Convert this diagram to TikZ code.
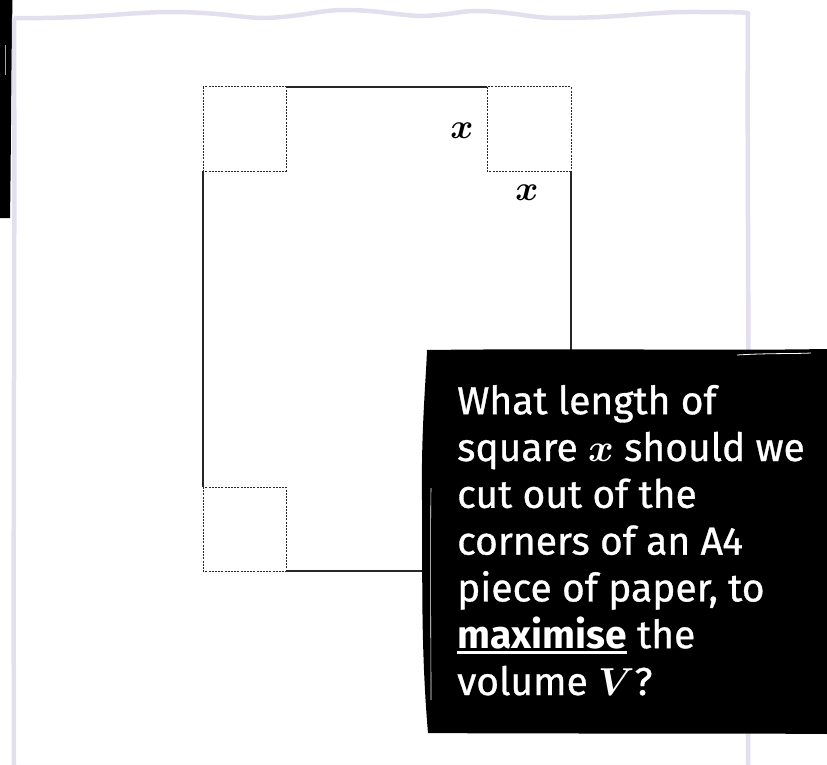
\RequirePackage{fix-cm}
\documentclass[tikz,border=0pt]{standalone}
\usepackage{bm}
\usepackage{fontspec}
\setmainfont{Fira Sans}[UprightFeatures={FakeBold=0.8}]
\definecolor{frameLav}{HTML}{E4DFEE}
\definecolor{paperLine}{HTML}{262626}
\newcommand{\thickunder}[1]{\setbox0=\hbox{#1}\rlap{\rule[-6pt]{\wd0}{3pt}}\box0\relax}
\begin{document}
\begin{tikzpicture}[x=1pt,y=-1pt,
  paperedge/.style={draw=paperLine,line width=1.2pt},
  cutsq/.style={draw=paperLine,line width=1pt,dash pattern=on 2pt off 1.2pt},
  lbl/.style={inner sep=0pt,font=\fontsize{35}{40}\selectfont},
  qtext/.style={text=white,inner sep=0pt,anchor=base west,align=left,
    font=\fontsize{39}{46.8}\selectfont}]
\useasboundingbox (0,0) rectangle (827,765);
% left black bar
\fill[black] (0,0) -- (12.5,0) .. controls (11,80) and (11,160) .. (10,218) -- (0,218) -- cycle;
\draw[gray!70,line width=0.6pt] (5,45) -- (5,75);
% sketchy lavender frame
\draw[frameLav,line width=4.5pt,line join=round]
  (14,18) .. controls (90,19) and (130,12) .. (170,12)
  .. controls (220,12) and (240,18) .. (265,18)
  .. controls (300,17) and (320,10) .. (344,10)
  .. controls (380,10) and (400,16) .. (423,16)
  .. controls (450,15) and (460,11) .. (476,11)
  .. controls (510,11) and (530,18) .. (556,18)
  .. controls (620,18) and (650,12) .. (688,12)
  .. controls (720,12) and (740,12) .. (748,13)
  .. controls (747,150) and (749,300) .. (748,400)
  .. controls (747,520) and (749,650) .. (748,767)
  -- (14,767)
  .. controls (13,500) and (15,250) .. (14,18);
% paper outline
\draw[paperedge] (286,87) -- (487,87);
\draw[paperedge] (203,171) -- (203,487);
\draw[paperedge] (571,171) -- (571,571) -- (286,571);
% cut-out squares
\draw[cutsq] (203,87) rectangle (286,171);
\draw[cutsq] (487,87) rectangle (571,171);
\draw[cutsq] (203,487) rectangle (286,571);
\draw[cutsq] (487,487) rectangle (571,571);
\node[lbl] (xa) at (462,131) {$\bm{x}$};
\node[lbl] (xb) at (527,193) {$\bm{x}$};
% black question box
\fill[black] (427,350) .. controls (600,348) and (700,351) .. (827,349)
  -- (827,734) .. controls (700,733) and (560,734) .. (428,733)
  .. controls (420,640) and (423,560) .. (422,500)
  .. controls (421,430) and (426,380) .. (427,350) -- cycle;
\draw[white,line width=0.8pt] (737,355) .. controls (770,353) and (790,354) .. (811,353);
\draw[white,line width=0.6pt] (431,488) .. controls (430,560) and (431,640) .. (431,700);
\node[qtext] (q) at (457,695) {What length of\\square $\bm{x}$ should we\\cut out of the\\corners of an A4\\piece of paper, to\\\thickunder{\textbf{maximise}} the\\volume $\bm{V}$?};
\end{tikzpicture}
\end{document}
